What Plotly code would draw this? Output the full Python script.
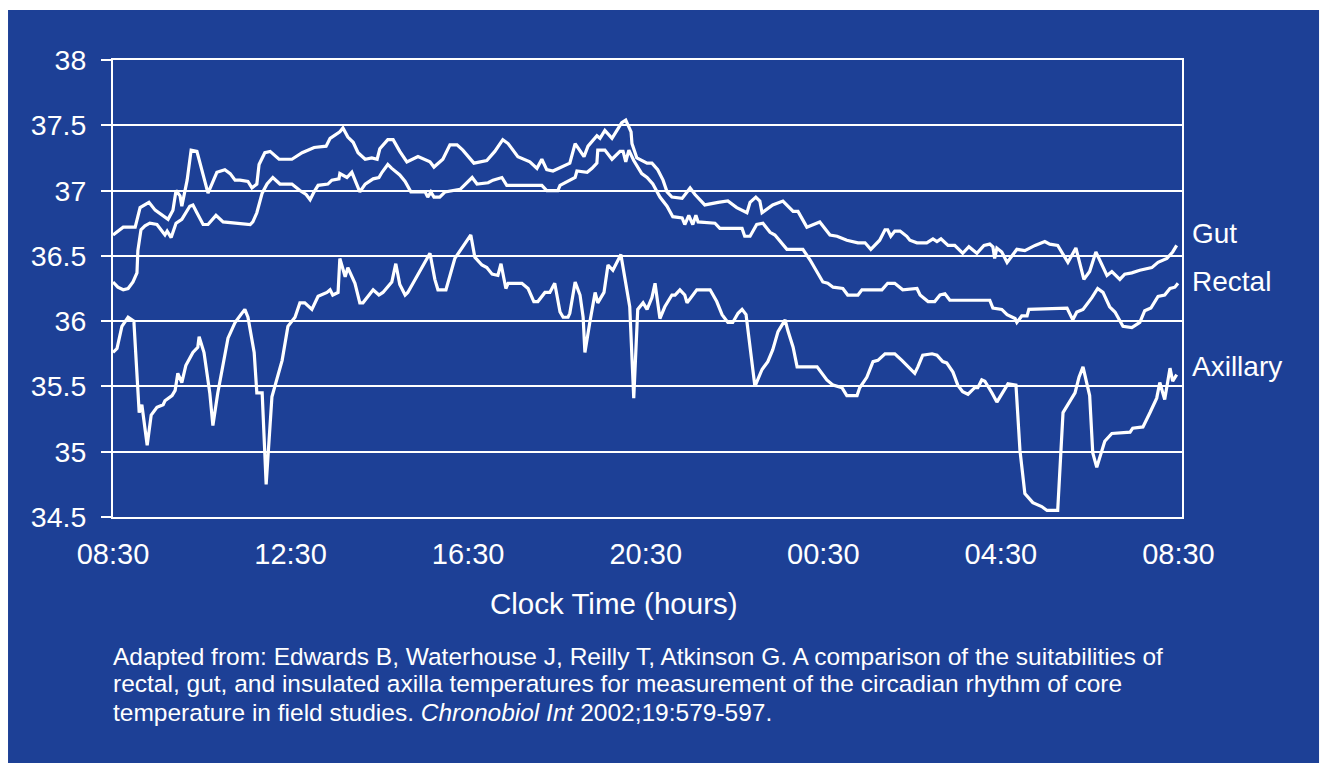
import plotly.graph_objects as go

# Elapsed time in hours from 08:30, and core/skin temperatures (°C)
gut_hours = [0.00, 0.23, 0.50, 0.61, 0.81, 0.95, 1.24, 1.35, 1.42, 1.51, 1.55, 1.67, 1.76, 1.89,
             2.14, 2.34, 2.52, 2.64, 2.75, 2.86, 3.04, 3.13, 3.24, 3.29, 3.42, 3.54, 3.74, 4.03,
             4.26, 4.41, 4.53, 4.80, 4.89, 5.11, 5.18, 5.29, 5.41, 5.52, 5.68, 5.83, 5.95, 6.01,
             6.06, 6.19, 6.31, 6.46, 6.62, 6.87, 7.14, 7.23, 7.43, 7.59, 7.75, 7.88, 8.13, 8.42,
             8.60, 8.78, 8.90, 9.12, 9.39, 9.55, 9.66, 9.77, 9.91, 10.14, 10.29, 10.41, 10.61,
             10.70, 10.90, 10.97, 11.08, 11.24, 11.46, 11.55, 11.67, 11.69, 11.80, 12.03, 12.14,
             12.27, 12.39, 12.48, 12.59, 12.82, 13.00, 13.11, 13.33, 13.63, 13.85, 14.05, 14.28,
             14.35, 14.48, 14.57, 14.62, 14.86, 15.09, 15.32, 15.43, 15.63, 15.92, 16.15, 16.31,
             16.53, 16.78, 16.94, 17.07, 17.27, 17.39, 17.45, 17.52, 17.61, 17.73, 17.88, 17.95,
             18.11, 18.33, 18.47, 18.56, 18.65, 18.81, 18.96, 19.14, 19.28, 19.46, 19.62, 19.75,
             19.82, 19.86, 19.91, 20.02, 20.14, 20.36, 20.54, 20.77, 20.99, 21.10, 21.28, 21.51,
             21.69, 21.87, 22.00, 22.14, 22.39, 22.50, 22.68, 22.79, 22.95, 23.13, 23.40, 23.54,
             23.74, 23.87, 23.96]
gut_temp = [36.66, 36.72, 36.72, 36.87, 36.91, 36.85, 36.78, 36.85, 37.00, 36.96, 36.88, 37.08, 37.31, 37.30,
            36.98, 37.14, 37.16, 37.13, 37.08, 37.08, 37.07, 37.02, 37.05, 37.20, 37.29, 37.30, 37.24, 37.24,
            37.29, 37.31, 37.33, 37.34, 37.40, 37.45, 37.48, 37.41, 37.37, 37.29, 37.24, 37.25, 37.24, 37.32,
            37.34, 37.39, 37.39, 37.30, 37.22, 37.26, 37.22, 37.18, 37.24, 37.35, 37.35, 37.31, 37.21, 37.23,
            37.30, 37.39, 37.36, 37.26, 37.22, 37.17, 37.24, 37.16, 37.15, 37.19, 37.21, 37.36, 37.26,
            37.34, 37.42, 37.40, 37.46, 37.40, 37.52, 37.54, 37.45, 37.36, 37.25, 37.21, 37.21,
            37.16, 37.08, 36.99, 36.95, 36.94, 37.02, 36.97, 36.89, 36.91, 36.92, 36.87, 36.83,
            36.91, 36.95, 36.92, 36.83, 36.89, 36.92, 36.84, 36.84, 36.72, 36.76, 36.66, 36.65,
            36.62, 36.60, 36.60, 36.55, 36.62, 36.70, 36.70, 36.65, 36.69, 36.69, 36.65, 36.62,
            36.60, 36.60, 36.63, 36.61, 36.63, 36.58, 36.58, 36.52, 36.57, 36.52, 36.58, 36.59,
            36.57, 36.48, 36.56, 36.53, 36.45, 36.55, 36.54, 36.58, 36.61, 36.59, 36.58, 36.45,
            36.56, 36.32, 36.38, 36.53, 36.35, 36.38, 36.32, 36.36, 36.37, 36.39, 36.41, 36.45,
            36.48, 36.53, 36.58]

rectal_hours = [0.00, 0.11, 0.23, 0.34, 0.45, 0.54, 0.56, 0.63, 0.72, 0.83, 0.99, 1.17, 1.22, 1.31,
                1.42, 1.55, 1.73, 1.80, 1.89, 2.03, 2.14, 2.32, 2.48, 3.09, 3.15, 3.24, 3.36, 3.47,
                3.60, 3.76, 4.03, 4.21, 4.35, 4.44, 4.53, 4.62, 4.84, 4.93, 5.09, 5.11, 5.27, 5.38,
                5.56, 5.68, 5.86, 5.99, 6.06, 6.19, 6.28, 6.46, 6.58, 6.71, 7.03, 7.09, 7.16, 7.23,
                7.36, 7.48, 7.82, 8.09, 8.20, 8.45, 8.56, 8.76, 8.87, 9.66, 9.77, 10.02, 10.07,
                10.25, 10.41, 10.45, 10.68, 10.79, 10.90, 10.92, 11.08, 11.24, 11.42, 11.49, 11.55,
                11.62, 11.73, 11.91, 12.03, 12.16, 12.32, 12.48, 12.61, 12.82, 12.88, 12.97, 13.06,
                13.13, 13.18, 13.56, 13.67, 14.17, 14.23, 14.35, 14.50, 14.64, 14.80, 14.91, 15.18,
                15.54, 15.70, 15.99, 16.10, 16.22, 16.44, 16.55, 16.78, 16.87, 17.32, 17.45, 17.61,
                17.79, 18.11, 18.18, 18.36, 18.51, 18.63, 18.74, 18.85, 19.75, 19.82, 20.02, 20.14,
                20.32, 20.36, 20.47, 20.59, 20.63, 21.49, 21.62, 21.71, 21.85, 22.05, 22.18, 22.30,
                22.45, 22.57, 22.75, 22.95, 23.13, 23.24, 23.38, 23.54, 23.69, 23.81, 23.92, 23.99]
rectal_temp = [36.30, 36.26, 36.24, 36.25, 36.30, 36.37, 36.54, 36.70, 36.73, 36.75, 36.74, 36.66, 36.69, 36.64,
               36.75, 36.78, 36.88, 36.89, 36.83, 36.74, 36.74, 36.81, 36.76, 36.74, 36.76, 36.83, 36.98, 37.05,
               37.10, 37.05, 37.05, 37.00, 36.97, 36.93, 36.99, 37.04, 37.05, 37.08, 37.09, 37.13, 37.10, 37.14,
               36.99, 37.05, 37.09, 37.10, 37.14, 37.20, 37.17, 37.12, 37.07, 36.99, 36.99, 36.95, 36.99, 36.95,
               36.95, 36.99, 37.01, 37.10, 37.05, 37.06, 37.08, 37.10, 37.04, 37.04, 37.00, 37.00, 37.04,
               37.07, 37.10, 37.15, 37.14, 37.17, 37.21, 37.31, 37.31, 37.24, 37.30, 37.30, 37.22,
               37.31, 37.23, 37.13, 37.10, 37.05, 36.95, 36.88, 36.80, 36.79, 36.74, 36.81, 36.74,
               36.81, 36.76, 36.75, 36.71, 36.71, 36.65, 36.65, 36.74, 36.75, 36.68, 36.66, 36.55,
               36.55, 36.47, 36.30, 36.29, 36.26, 36.25, 36.20, 36.20, 36.24, 36.24, 36.29, 36.29,
               36.24, 36.25, 36.20, 36.15, 36.15, 36.20, 36.21, 36.16, 36.16, 36.10, 36.09, 36.05,
               36.02, 35.99, 36.04, 36.04, 36.09, 36.10, 36.01, 36.07, 36.09, 36.18, 36.25, 36.22,
               36.11, 36.07, 35.96, 35.95, 35.99, 36.08, 36.10, 36.19, 36.20, 36.25, 36.26, 36.29]

axillary_hours = [0.00, 0.09, 0.20, 0.34, 0.47, 0.54, 0.59, 0.65, 0.70, 0.77, 0.86, 0.99, 1.13, 1.17,
                  1.33, 1.40, 1.46, 1.55, 1.64, 1.80, 1.91, 1.94, 2.05, 2.18, 2.25, 2.36, 2.59, 2.75,
                  2.88, 2.97, 3.04, 3.18, 3.24, 3.36, 3.45, 3.58, 3.81, 3.94, 4.10, 4.21, 4.32, 4.48,
                  4.62, 4.82, 4.89, 4.95, 5.07, 5.11, 5.23, 5.29, 5.45, 5.56, 5.63, 5.86, 5.99, 6.08,
                  6.28, 6.37, 6.46, 6.58, 6.64, 7.14, 7.25, 7.32, 7.50, 7.70, 8.06, 8.15, 8.31, 8.42,
                  8.54, 8.67, 8.74, 8.85, 8.90, 9.21, 9.35, 9.48, 9.57, 9.73, 9.84, 9.95, 10.07, 10.14,
                  10.25, 10.29, 10.41, 10.52, 10.59, 10.63, 10.74, 10.86, 10.92, 11.06, 11.15, 11.26,
                  11.44, 11.53, 11.64, 11.73, 11.82, 11.94, 12.03, 12.14, 12.21, 12.25, 12.32, 12.43,
                  12.59, 12.66, 12.77, 12.88, 12.93, 13.15, 13.45, 13.60, 13.72, 13.85, 13.96, 14.08,
                  14.17, 14.26, 14.35, 14.46, 14.62, 14.75, 14.86, 14.98, 15.14, 15.20, 15.32, 15.41,
                  15.86, 16.08, 16.22, 16.42, 16.53, 16.76, 16.82, 16.98, 17.12, 17.23, 17.39, 17.61,
                  17.77, 17.88, 18.06, 18.13, 18.24, 18.45, 18.56, 18.69, 18.78, 18.92, 19.03, 19.14,
                  19.26, 19.41, 19.48, 19.57, 19.64, 19.80, 19.91, 20.16, 20.34, 20.43, 20.54, 20.72,
                  20.92, 21.04, 21.28, 21.40, 21.51, 21.67, 21.76, 21.85, 22.00, 22.07, 22.16, 22.34,
                  22.50, 22.91, 22.97, 23.20, 23.36, 23.51, 23.58, 23.69, 23.81, 23.87, 23.96]
axillary_temp = [35.76, 35.79, 35.96, 36.03, 36.00, 35.57, 35.30, 35.36, 35.24, 35.05, 35.28, 35.34, 35.36, 35.39,
                 35.43, 35.47, 35.60, 35.53, 35.66, 35.76, 35.80, 35.88, 35.76, 35.45, 35.20, 35.45, 35.87, 35.99,
                 36.05, 36.09, 36.03, 35.76, 35.45, 35.45, 34.75, 35.42, 35.70, 35.96, 36.03, 36.14, 36.14, 36.09,
                 36.19, 36.22, 36.24, 36.20, 36.22, 36.48, 36.34, 36.41, 36.29, 36.14, 36.14, 36.24, 36.20, 36.22,
                 36.30, 36.44, 36.28, 36.20, 36.22, 36.52, 36.32, 36.24, 36.24, 36.48, 36.66, 36.49, 36.43, 36.41,
                 36.36, 36.35, 36.44, 36.25, 36.29, 36.29, 36.25, 36.15, 36.15, 36.22, 36.22, 36.29, 36.07, 36.03,
                 36.03, 36.06, 36.30, 36.20, 36.03, 35.76, 35.99, 36.22, 36.14, 36.22, 36.43, 36.39,
                 36.51, 36.34, 36.11, 35.41, 36.09, 36.14, 36.09, 36.18, 36.29, 36.19, 36.02, 36.11,
                 36.20, 36.20, 36.24, 36.20, 36.14, 36.24, 36.24, 36.15, 36.05, 35.99, 35.99, 36.06,
                 36.09, 36.05, 35.80, 35.50, 35.63, 35.69, 35.78, 35.92, 36.01, 35.93, 35.80, 35.65,
                 35.65, 35.55, 35.51, 35.49, 35.43, 35.43, 35.49, 35.57, 35.69, 35.70, 35.75, 35.75,
                 35.70, 35.66, 35.60, 35.65, 35.74, 35.75, 35.74, 35.69, 35.68, 35.61, 35.51, 35.46,
                 35.44, 35.49, 35.49, 35.55, 35.54, 35.45, 35.38, 35.52, 35.51, 35.01, 34.68, 34.61,
                 34.58, 34.55, 34.55, 35.30, 35.36, 35.45, 35.57, 35.65, 35.43, 34.99, 34.88, 35.08,
                 35.14, 35.15, 35.18, 35.19, 35.30, 35.41, 35.53, 35.40, 35.64, 35.54, 35.59]

tick_hours = [0, 4, 8, 12, 16, 20, 24]
tick_labels = ["08:30", "12:30", "16:30", "20:30", "00:30", "04:30", "08:30"]
temp_ticks = [34.5, 35, 35.5, 36, 36.5, 37, 37.5, 38]
temp_labels = ["34.5", "35", "35.5", "36", "36.5", "37", "37.5", "38"]
series_labels = ["Gut", "Rectal", "Axillary"]

BLUE = "#1d4096"
WHITE = "#ffffff"
FONT = "Liberation Sans, Arial, sans-serif"

fig = go.Figure()
for xs, ys, name in [(gut_hours, gut_temp, "Gut"),
                     (rectal_hours, rectal_temp, "Rectal"),
                     (axillary_hours, axillary_temp, "Axillary")]:
    fig.add_trace(go.Scatter(x=xs, y=ys, mode="lines", name=name,
                             line=dict(color=WHITE, width=3.2), showlegend=False))

# blue panel behind the whole chart
fig.add_shape(type="rect", xref="paper", yref="paper",
              x0=-0.0982, x1=1.1282, y0=-0.5383, y1=1.1094,
              fillcolor=BLUE, line=dict(width=0), layer="below")

# series labels at the right edge
for name, ypos in zip(series_labels, [0.6214, 0.5164, 0.3304]):
    fig.add_annotation(text=name, xref="paper", yref="paper", x=1.0074, y=ypos,
                       xanchor="left", yanchor="middle", showarrow=False,
                       font=dict(family=FONT, size=28, color=WHITE))

fig.add_annotation(text="Clock Time (hours)", xref="paper", yref="paper",
                   x=0.4687, y=-0.1882, xanchor="center", yanchor="middle",
                   showarrow=False, font=dict(family=FONT, size=29.5, color=WHITE))

footnote = [
    "Adapted from: Edwards B, Waterhouse J, Reilly T, Atkinson G. A comparison of the suitabilities of",
    "rectal, gut, and insulated axilla temperatures for measurement of the circadian rhythm of core",
    "temperature in field studies. <i>Chronobiol Int</i> 2002;19:579-597.",
]
for line, ypos in zip(footnote, [-0.3042, -0.3654, -0.4267]):
    fig.add_annotation(text=line, xref="paper", yref="paper", x=-0.002, y=ypos,
                       xanchor="left", yanchor="middle", showarrow=False,
                       font=dict(family=FONT, size=24.5, color=WHITE))

fig.update_xaxes(range=[0, 24.08], tickvals=tick_hours, ticktext=tick_labels,
                 showgrid=False, zeroline=False, ticks="", ticklabelstandoff=10,
                 showline=True, linecolor=WHITE, linewidth=2, mirror=True,
                 tickfont=dict(family=FONT, size=29, color=WHITE))
fig.update_yaxes(range=[34.5, 38], tickvals=temp_ticks, ticktext=temp_labels,
                 showgrid=True, gridcolor=WHITE, gridwidth=2, zeroline=False,
                 ticks="outside", ticklen=10, tickwidth=2, tickcolor=WHITE,
                 ticklabelstandoff=9,
                 showline=True, linecolor=WHITE, linewidth=2, mirror=True,
                 tickfont=dict(family=FONT, size=28.5, color=WHITE))

fig.update_layout(width=1327, height=775,
                  margin=dict(l=113, r=145, t=60, b=258),
                  paper_bgcolor=WHITE, plot_bgcolor="rgba(0,0,0,0)")

fig.write_html("out.html")
